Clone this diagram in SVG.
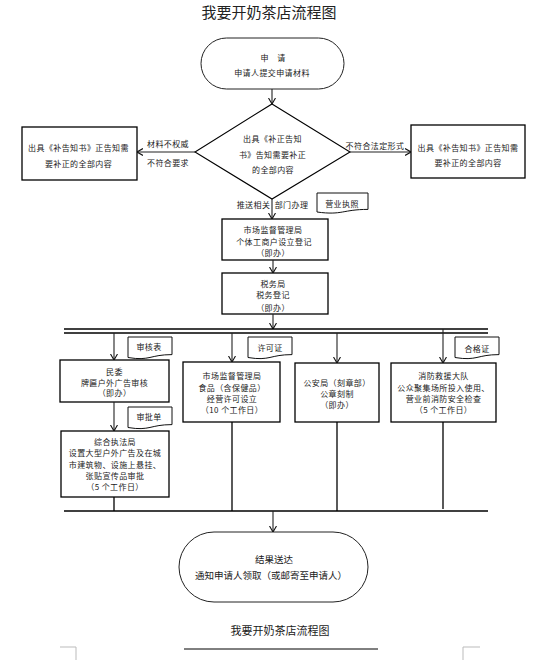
<svg xmlns="http://www.w3.org/2000/svg" width="538" height="660" viewBox="0 0 538 660">
<style>
text{font-family:"Noto Sans CJK SC","Noto Sans",sans-serif;fill:#1a1a1a;text-anchor:middle;dominant-baseline:central}
.t{font-size:8px;letter-spacing:0.4px}
.box{fill:#fff;stroke:#000;stroke-width:1.3}
.term{fill:#fff;stroke:#222;stroke-width:1}
.doc{fill:#fff;stroke:#111;stroke-width:1}
.ln{stroke:#000;stroke-width:1.3;fill:none}
.ar{stroke:#222;stroke-width:1.1;fill:none;marker-end:url(#arr)}
.corner{stroke:#bbb;stroke-width:1;fill:none}
</style>
<defs>
<marker id="arr" viewBox="0 0 6 8" refX="6" refY="4" markerWidth="6" markerHeight="8" markerUnits="userSpaceOnUse" orient="auto">
<path d="M0,0.5 L6,4 L0,7.5" fill="none" stroke="#111" stroke-width="1.1"/>
</marker>
</defs>
<rect width="538" height="660" fill="#fff"/>
<text x="269" y="11" style="font-size:15px;fill:#222">我要开奶茶店流程图</text>

<g id="start">
<rect class="term" x="201" y="38" width="143" height="51" rx="25.5"/>
<text class="t" x="273" y="57">申　请</text>
<text class="t" x="272" y="72">申请人提交申请材料</text>
</g>

<g id="decision">
<path class="ln" d="M272,104 L350,152 L272,199 L195,152 Z" style="stroke-width:1.1;fill:#fff"/>
<text class="t" x="272.5" y="138">出具《补正告知</text>
<text class="t" x="272.5" y="154">书》告知需要补正</text>
<text class="t" x="273" y="169">的全部内容</text>
</g>

<g id="left-notice">
<rect class="box" x="22" y="127" width="115" height="53"/>
<text class="t" x="78.5" y="147">出具《补告知书》正告知需</text>
<text class="t" x="78.5" y="163">要补正的全部内容</text>
</g>

<g id="right-notice">
<rect class="box" x="411" y="125" width="114" height="53"/>
<text class="t" x="468" y="147">出具《补告知书》正告知需</text>
<text class="t" x="468" y="162">要补正的全部内容</text>
</g>

<g id="doc-license">
<path class="doc" d="M317,193 H368 V209.4 C342.5,209.4 342.5,215.5 317,212 Z"/>
<text class="t" x="342" y="203">营业执照</text>
</g>

<g id="amr-register">
<rect class="box" x="222" y="219" width="106" height="41"/>
<text class="t" x="273" y="229">市场监督管理局</text>
<text class="t" x="274" y="241">个体工商户设立登记</text>
<text class="t" x="273" y="252">（即办）</text>
</g>

<g id="tax">
<rect class="box" x="222" y="273" width="106" height="41"/>
<text class="t" x="273" y="283">税务局</text>
<text class="t" x="273" y="294">税务登记</text>
<text class="t" x="273" y="307">（即办）</text>
</g>

<g id="doc-review">
<path class="doc" d="M128,337 H172 V354.6 C150,354.6 150,361.2 128,357.5 Z"/>
<text class="t" x="149" y="346">审核表</text>
</g>

<g id="minwei">
<rect class="box" x="60" y="360" width="109" height="42"/>
<text class="t" x="114.5" y="371">民委</text>
<text class="t" x="114.5" y="382">牌匾户外广告审核</text>
<text class="t" x="114.5" y="392">（即办）</text>
</g>

<g id="doc-approval">
<path class="doc" d="M128,407 H172 V424.6 C150,424.6 150,431.2 128,427.5 Z"/>
<text class="t" x="149" y="416">审批单</text>
</g>

<g id="law-enforcement">
<rect class="box" x="61" y="431" width="108" height="66"/>
<text class="t" x="115" y="441">综合执法局</text>
<text class="t" x="115" y="452">设置大型户外广告及在城</text>
<text class="t" x="115" y="464">市建筑物、设施上悬挂、</text>
<text class="t" x="115" y="475">张贴宣传品审批</text>
<text class="t" x="115" y="486">（5 个工作日）</text>
</g>

<g id="doc-permit">
<path class="doc" d="M248,337 H292 V354.6 C270,354.6 270,361.2 248,357.5 Z"/>
<text class="t" x="270" y="347">许可证</text>
</g>

<g id="amr-food">
<rect class="box" x="183" y="362" width="97" height="60"/>
<text class="t" x="232" y="375">市场监督管理局</text>
<text class="t" x="232" y="387">食品（含保健品）</text>
<text class="t" x="232" y="398">经营许可设立</text>
<text class="t" x="232" y="409">（10 个工作日）</text>
</g>

<g id="police">
<rect class="box" x="295" y="363" width="84" height="59"/>
<text class="t" x="337" y="382">公安局（刻章部）</text>
<text class="t" x="337" y="393">公章刻制</text>
<text class="t" x="337" y="404">（即办）</text>
</g>

<g id="doc-cert">
<path class="doc" d="M455,337 H499 V354.6 C477,354.6 477,361.2 455,357.5 Z"/>
<text class="t" x="477" y="348">合格证</text>
</g>

<g id="fire">
<rect class="box" x="391" y="363" width="105" height="59"/>
<text class="t" x="443.5" y="375">消防救援大队</text>
<text class="t" x="443.5" y="387">公众聚集场所投入使用、</text>
<text class="t" x="443.5" y="398">营业前消防安全检查</text>
<text class="t" x="443.5" y="409">（5 个工作日）</text>
</g>

<g id="end">
<rect class="term" x="179" y="532" width="189" height="70" rx="35"/>
<text x="274" y="559" style="font-size:9.5px">结果送达</text>
<text x="271" y="575" style="font-size:9.5px">通知申请人领取（或邮寄至申请人）</text>
</g>

<g id="connectors">
<line class="ar" x1="272" y1="89" x2="272" y2="104"/>
<line class="ar" x1="195" y1="152" x2="137" y2="152"/>
<line class="ar" x1="350" y1="152" x2="411" y2="152"/>
<line class="ar" x1="272" y1="199" x2="272" y2="219"/>
<line class="ar" x1="273" y1="260" x2="273" y2="273"/>
<line class="ar" x1="273" y1="314" x2="273" y2="329"/>
<line class="ln" x1="64" y1="329" x2="488" y2="329"/>
<line class="ln" x1="64" y1="333" x2="488" y2="333"/>
<line class="ar" x1="114" y1="333" x2="114" y2="360"/>
<line class="ar" x1="114" y1="402" x2="114" y2="431"/>
<line class="ar" x1="232" y1="333" x2="232" y2="362"/>
<line class="ar" x1="337" y1="333" x2="337" y2="363"/>
<line class="ar" x1="443" y1="329" x2="443" y2="363"/>
<line class="ln" x1="114" y1="497" x2="114" y2="511"/>
<line class="ln" x1="232" y1="422" x2="232" y2="511"/>
<line class="ln" x1="337" y1="422" x2="337" y2="511"/>
<line class="ln" x1="443" y1="422" x2="443" y2="509"/>
<line class="ln" x1="64" y1="511" x2="488" y2="511"/>
<line class="ar" x1="273" y1="511" x2="273" y2="532"/>
<text class="t" x="168" y="143">材料不权威</text>
<text class="t" x="168" y="162">不符合要求</text>
<text class="t" x="375" y="145">不符合法定形式</text>
<text class="t" x="253.5" y="204">推送相关</text>
<text class="t" x="291.5" y="204">部门办理</text>
</g>

<text x="280" y="630" style="font-size:11px">我要开奶茶店流程图</text>
<line x1="184" y1="649" x2="378" y2="649" stroke="#000" stroke-width="1"/>
<path class="corner" d="M60,647 H76 V660"/>
<path class="corner" d="M480,647 H463 V660"/>
</svg>
